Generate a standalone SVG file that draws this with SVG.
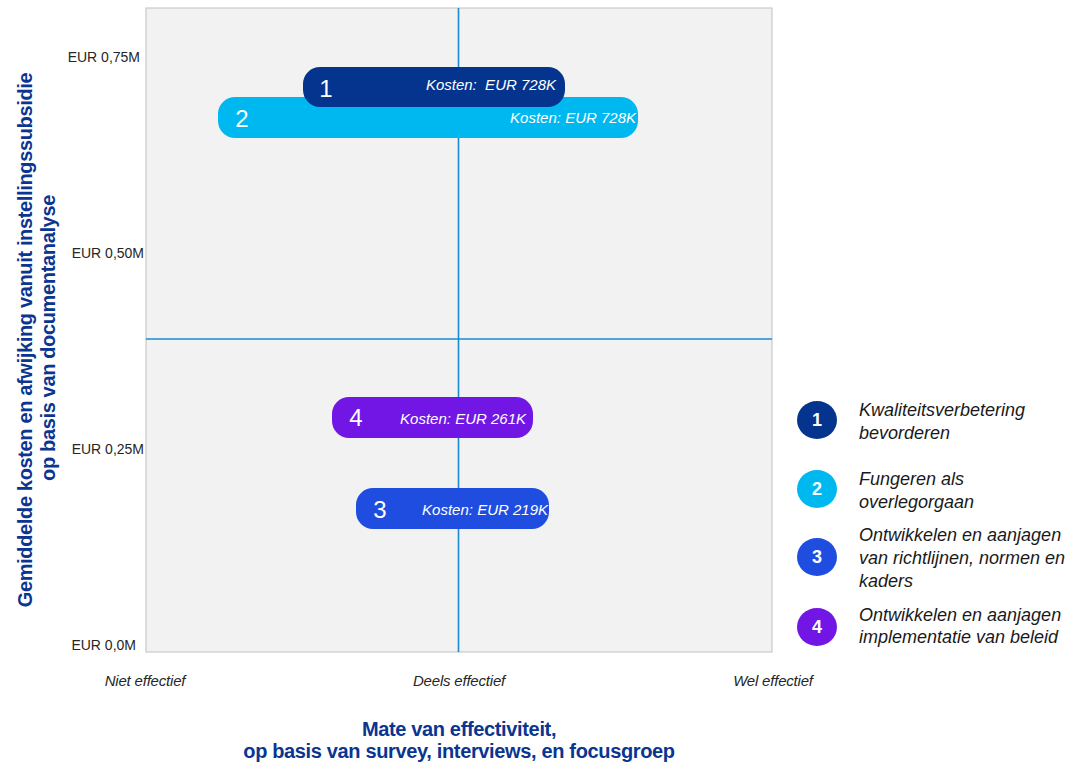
<svg xmlns="http://www.w3.org/2000/svg" width="1073" height="763" viewBox="0 0 1073 763">
<style>
.tick{font-family:"Liberation Sans",Arial,sans-serif;font-size:14px;fill:#262626}
.xl{font-family:"Liberation Sans",Arial,sans-serif;font-size:15px;font-style:italic;fill:#262626;letter-spacing:-0.2px}
.title{font-family:"Liberation Sans",Arial,sans-serif;font-size:20px;font-weight:bold;fill:#0a3590;letter-spacing:-0.35px}
.num{font-family:"Liberation Sans",Arial,sans-serif;font-size:24px;fill:#ffffff}
.cost{font-family:"Liberation Sans",Arial,sans-serif;font-size:15px;font-style:italic;fill:#ffffff;text-anchor:end}
.lnum{font-family:"Liberation Sans",Arial,sans-serif;font-size:18px;font-weight:bold;fill:#ffffff;text-anchor:middle}
.leg{font-family:"Liberation Sans",Arial,sans-serif;font-size:18px;font-style:italic;fill:#1a1a1a}
.axis{stroke:#1a8ad4;stroke-width:1.6}
</style>
<rect width="1073" height="763" fill="#ffffff"/>
<g id="plot">
<rect x="146" y="8" width="626" height="644" fill="#f2f2f2" stroke="#c0c0c0" stroke-width="1"/>
</g>
<g id="connectors">
<line class="axis" x1="458.5" y1="8" x2="458.5" y2="652"/>
<line class="axis" x1="146" y1="339" x2="772" y2="339"/>
</g>
<g id="yticks">
<text class="tick" x="140" y="62" text-anchor="end">EUR 0,75M</text>
<text class="tick" x="144" y="258" text-anchor="end">EUR 0,50M</text>
<text class="tick" x="144" y="454" text-anchor="end">EUR 0,25M</text>
<text class="tick" x="136" y="650" text-anchor="end">EUR 0,0M</text>
</g>
<g id="xticks">
<text class="xl" x="145" y="686" text-anchor="middle">Niet effectief</text>
<text class="xl" x="459" y="686" text-anchor="middle">Deels effectief</text>
<text class="xl" x="773" y="686" text-anchor="middle">Wel effectief</text>
</g>
<g id="xtitle">
<text class="title" x="459" y="736" text-anchor="middle">Mate van effectiviteit,</text>
<text class="title" x="459" y="758" text-anchor="middle">op basis van survey, interviews, en focusgroep</text>
</g>
<g id="ytitle">
<text class="title" transform="translate(32,340) rotate(-90)" text-anchor="middle">Gemiddelde kosten en afwijking vanuit instellingssubsidie</text>
<text class="title" transform="translate(55,338) rotate(-90)" text-anchor="middle">op basis van documentanalyse</text>
</g>
<g id="bar2">
<rect x="218" y="97" width="420" height="41" rx="17" fill="#00b8f0"/>
<text class="num" x="242" y="127" text-anchor="middle">2</text>
<text class="cost" x="636" y="123">Kosten: EUR 728K</text>
</g>
<g id="bar1">
<rect x="303" y="67" width="262" height="40" rx="17" fill="#05348f"/>
<text class="num" x="326" y="97" text-anchor="middle">1</text>
<text class="cost" x="556" y="90">Kosten:&#160; EUR 728K</text>
</g>
<g id="bar4">
<rect x="332" y="397" width="201" height="41" rx="17" fill="#7216e6"/>
<text class="num" x="356" y="426" text-anchor="middle">4</text>
<text class="cost" x="526" y="424">Kosten: EUR 261K</text>
</g>
<g id="bar3">
<rect x="356" y="488" width="193" height="41" rx="17" fill="#1e4de0"/>
<text class="num" x="380" y="518" text-anchor="middle">3</text>
<text class="cost" x="548" y="515">Kosten: EUR 219K</text>
</g>
<g id="legend1">
<ellipse cx="817" cy="420" rx="20" ry="19" fill="#05348f"/>
<text class="lnum" x="817" y="426">1</text>
<text class="leg" x="859" y="416">Kwaliteitsverbetering</text>
<text class="leg" x="859" y="439">bevorderen</text>
</g>
<g id="legend2">
<ellipse cx="817" cy="489" rx="20" ry="19" fill="#00b8f0"/>
<text class="lnum" x="817" y="495">2</text>
<text class="leg" x="859" y="485">Fungeren als</text>
<text class="leg" x="859" y="508">overlegorgaan</text>
</g>
<g id="legend3">
<ellipse cx="817" cy="557" rx="20" ry="19" fill="#1e4de0"/>
<text class="lnum" x="817" y="563">3</text>
<text class="leg" x="859" y="541">Ontwikkelen en aanjagen</text>
<text class="leg" x="859" y="564">van richtlijnen, normen en</text>
<text class="leg" x="859" y="587">kaders</text>
</g>
<g id="legend4">
<ellipse cx="817" cy="627" rx="20" ry="19" fill="#7216e6"/>
<text class="lnum" x="817" y="633">4</text>
<text class="leg" x="859" y="621">Ontwikkelen en aanjagen</text>
<text class="leg" x="859" y="643">implementatie van beleid</text>
</g>
</svg>
